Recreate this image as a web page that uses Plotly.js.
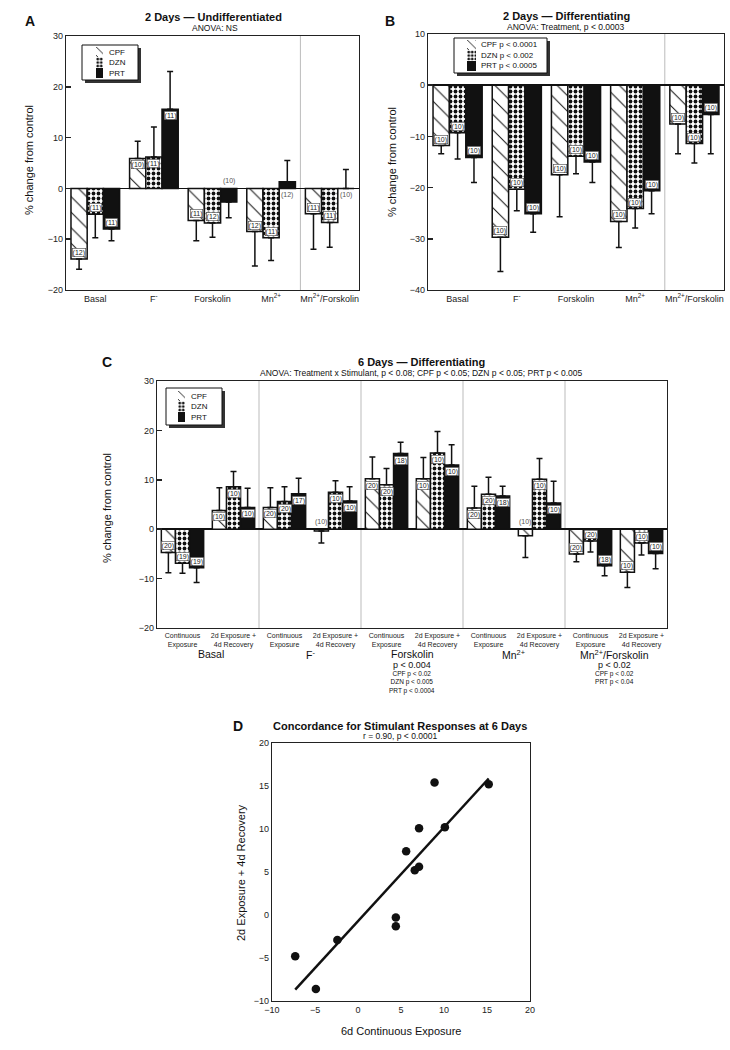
<!DOCTYPE html>
<html>
<head>
<meta charset="utf-8">
<script src="https://cdn.plot.ly/plotly-3.0.1.min.js"></script>
<style>
  body { margin: 0; background: #fff; }
  #fig { width: 730px; height: 1050px; }
</style>
</head>
<body>
<div id="fig"></div>
<script>
/*
  Four-panel figure: stimulant responses after 2 and 6 days (A-C) and concordance scatter (D).
*/

// ---- data ----
const stimuli = ['Basal', 'F<sup>-</sup>', 'Forskolin', 'Mn<sup>2+</sup>', 'Mn<sup>2+</sup>/Forskolin'];
const exposures = ['Continuous<br>Exposure', '2d Exposure +<br>4d Recovery'];

// Panel A: 2 days, undifferentiated
const aCPF = [-13.9, 5.9, -6.3, -8.5, -5.0];
const aCPFErr = [2.0, 3.4, 4.0, 6.8, 7.0];
const aCPFN = [12, 10, 11, 12, 11];
const aDZN = [-5.1, 6.2, -6.8, -9.7, -6.7];
const aDZNErr = [4.6, 5.9, 2.8, 4.5, 4.9];
const aDZNN = [11, 11, 12, 11, 11];
const aPRT = [-8.0, 15.6, -2.7, 1.3, 0.0];
const aPRTErr = [2.3, 7.4, 3.1, 4.2, 3.7];
const aPRTN = [11, 11, 10, 12, 10];

// Panel B: 2 days, differentiating
const bCPF = [-11.8, -29.7, -17.5, -26.6, -7.6];
const bCPFErr = [1.6, 6.7, 8.2, 5.1, 5.8];
const bCPFN = [10, 10, 10, 10, 10];
const bDZN = [-9.3, -20.3, -13.9, -24.1, -11.4];
const bDZNErr = [5.1, 4.2, 3.4, 3.8, 3.8];
const bDZNN = [10, 10, 10, 10, 10];
const bPRT = [-14.1, -25.1, -15.0, -20.6, -5.7];
const bPRTErr = [4.9, 3.6, 4.0, 4.5, 7.7];
const bPRTN = [10, 10, 10, 10, 10];

// Panel C: 6 days, differentiating (each stimulant: continuous, 2d exposure + 4d recovery)
const cCPF = [-4.7, 3.8, 4.4, -0.35, 10.2, 10.2, 4.3, -1.35, -5.0, -8.7];
const cCPFErr = [4.1, 4.6, 4.0, 2.45, 4.4, 4.3, 4.4, 4.4, 1.6, 3.1];
const cCPFN = [20, 10, 20, 10, 20, 10, 20, 10, 20, 10];
const cDZN = [-6.9, 8.6, 5.6, 7.5, 9.0, 15.4, 7.1, 10.1, -2.4, -2.8];
const cDZNErr = [2.0, 3.1, 3.0, 2.3, 3.3, 4.4, 3.4, 4.2, 2.2, 2.4];
const cDZNN = [19, 10, 20, 10, 20, 10, 20, 10, 20, 10];
const cPRT = [-7.8, 4.4, 7.2, 5.7, 15.3, 13.0, 6.7, 5.3, -7.4, -4.9];
const cPRTErr = [3.0, 3.9, 3.1, 2.9, 2.3, 4.1, 2.0, 4.4, 2.0, 3.1];
const cPRTN = [19, 10, 17, 10, 18, 10, 18, 10, 18, 10];

// Panel D: concordance at 6 days
const dContinuous = [-7.3, -4.9, -2.4, 4.4, 4.4, 5.6, 6.6, 7.1, 7.1, 8.9, 10.1, 15.2];
const dRecovery = [-4.8, -8.6, -2.9, -0.3, -1.3, 7.4, 5.2, 5.6, 10.1, 15.4, 10.2, 15.2];

// ---- helpers ----
const W = 730, H = 1050;
const FONT = '"Liberation Sans", Arial, sans-serif';
const px = x => x / W;
const py = y => 1 - y / H;
const BARGAP = 0.17;
const BARW = (1 - BARGAP) / 3;

const STYLE = {
  CPF: { color: 'white', line: { color: '#111', width: 1.5 },
         pattern: { shape: '\\', fgcolor: '#111', bgcolor: 'white', size: 11, solidity: 0.09 } },
  DZN: { color: 'white', line: { color: '#111', width: 1.5 },
         pattern: { shape: '.', fgcolor: '#111', bgcolor: 'white', size: 5, solidity: 0.45 } },
  PRT: { color: '#111', line: { color: '#111', width: 1.5 } },
};
const SWATCH = {
  CPF: { color: 'white', line: { width: 0 },
         pattern: { shape: '\\', fgcolor: '#111', bgcolor: 'white', size: 6, solidity: 0.15 } },
  DZN: { color: 'white', line: { width: 0 },
         pattern: { shape: '.', fgcolor: '#111', bgcolor: 'white', size: 3.5, solidity: 0.5 } },
  PRT: { color: '#111', line: { width: 0 } },
};

function barTrace(name, y, err, ax) {
  return {
    type: 'bar', name,
    x: y.map((v, i) => i), y,
    xaxis: 'x' + ax, yaxis: 'y' + ax,
    marker: STYLE[name],
    error_y: {
      type: 'data', symmetric: false,
      array: y.map((v, i) => v >= 0 ? err[i] : 0),
      arrayminus: y.map((v, i) => v < 0 ? err[i] : 0),
      color: '#111', thickness: 1.5, width: 3,
    },
    hoverinfo: 'skip',
  };
}

// "(n)" labels sitting inside the end of each bar, or next to the zero line for short bars
function nLabels(values, ns, slot, ax, outsideLimit) {
  return values.map((v, i) => {
    const outside = Math.abs(v) < outsideLimit;
    const a = {
      xref: 'x' + ax, yref: 'y' + ax, x: i + (slot - 1) * BARW,
      text: '(' + ns[i] + ')', showarrow: false,
      font: { size: 7, color: '#222' }, xanchor: 'center',
    };
    if (outside) {
      a.y = 0;
      a.yanchor = v < 0 ? 'bottom' : 'top';
      a.yshift = v < 0 ? 1 : -1;
      a.font.color = '#555';
    } else {
      a.y = v;
      a.yanchor = v >= 0 ? 'top' : 'bottom';
      a.yshift = v >= 0 ? -2 : 2;
      a.bgcolor = 'white';
      a.bordercolor = '#444';
      a.borderwidth = 0.6;
      a.borderpad = 0;
    }
    return a;
  });
}

function note(x, y, s, size, extra) {
  return Object.assign({
    xref: 'paper', yref: 'paper', x: px(x), y: py(y), text: s, showarrow: false,
    font: { size, color: '#111' }, xanchor: 'center', yanchor: 'middle',
  }, extra || {});
}

// small hand-made legend: one swatch bar per series on a hidden axis, texts, framed box with shadow
const ROW = 10.5;
function legendParts(ax, box, swX, labels, textX, firstRow) {
  const rows = labels.map((s, i) => firstRow + i * ROW);
  const traces = ['CPF', 'DZN', 'PRT'].map((name, i) => ({
    type: 'bar', orientation: 'h', x: [1], y: [i], width: [0.96],
    xaxis: 'x' + ax, yaxis: 'y' + ax, hoverinfo: 'skip', marker: SWATCH[name],
  }));
  const axes = {};
  axes['xaxis' + ax] = { domain: [px(swX[0]), px(swX[1])], range: [0, 1], visible: false, anchor: 'y' + ax, fixedrange: true };
  axes['yaxis' + ax] = { domain: [py(rows[2] + ROW / 2), py(rows[0] - ROW / 2)], range: [2.5, -0.5],
                         visible: false, anchor: 'x' + ax, fixedrange: true };
  const shapes = [
    { type: 'rect', xref: 'paper', yref: 'paper', layer: 'below',
      x0: px(box[0] + 3), x1: px(box[1] + 3), y0: py(box[3] + 3), y1: py(box[2] + 3),
      fillcolor: '#333', line: { width: 0 } },
    { type: 'rect', xref: 'paper', yref: 'paper', layer: 'below',
      x0: px(box[0]), x1: px(box[1]), y0: py(box[3]), y1: py(box[2]),
      fillcolor: 'white', line: { color: '#111', width: 1 } },
  ];
  const texts = labels.map((s, i) => note(textX, rows[i], s, 8, { xanchor: 'left' }));
  return { traces, axes, shapes, texts };
}

// ---- axes ----
const frame = {
  showline: true, mirror: true, linecolor: '#222', linewidth: 1.2,
  showgrid: false, zeroline: false, fixedrange: true,
  tickfont: { size: 9, color: '#222' },
};
function barX(domain, anchor, n, text, size) {
  return Object.assign({}, frame, {
    domain, anchor, range: [-0.5, n - 0.5], tickvals: text.map((t, i) => i), ticktext: text,
    ticks: '', tickfont: { size, color: '#222' },
  });
}
function barY(domain, anchor, range) {
  return Object.assign({}, frame, {
    domain, anchor, range, dtick: 10, ticks: 'inside', ticklen: 5, tickwidth: 1.5, tickcolor: '#222',
    zeroline: true, zerolinecolor: '#111', zerolinewidth: 1.5,
  });
}

const cTicks = [];
stimuli.forEach(() => exposures.forEach(e => cTicks.push(e)));

// regression line for panel D (least squares)
const mx = dContinuous.reduce((s, v) => s + v, 0) / dContinuous.length;
const my = dRecovery.reduce((s, v) => s + v, 0) / dRecovery.length;
let sxy = 0, sxx = 0;
dContinuous.forEach((v, i) => { sxy += (v - mx) * (dRecovery[i] - my); sxx += (v - mx) * (v - mx); });
const slope = sxy / sxx;
const icpt = my - slope * mx;
const lineX = [Math.min(...dContinuous), Math.max(...dContinuous)];
const lineY = lineX.map(x => icpt + slope * x);

const traces = [
  barTrace('CPF', aCPF, aCPFErr, ''), barTrace('DZN', aDZN, aDZNErr, ''), barTrace('PRT', aPRT, aPRTErr, ''),
  barTrace('CPF', bCPF, bCPFErr, '2'), barTrace('DZN', bDZN, bDZNErr, '2'), barTrace('PRT', bPRT, bPRTErr, '2'),
  barTrace('CPF', cCPF, cCPFErr, '3'), barTrace('DZN', cDZN, cDZNErr, '3'), barTrace('PRT', cPRT, cPRTErr, '3'),
  {
    type: 'scatter', mode: 'lines', x: lineX, y: lineY, xaxis: 'x4', yaxis: 'y4',
    line: { color: '#111', width: 2.5 }, hoverinfo: 'skip',
  },
  {
    type: 'scatter', mode: 'markers', x: dContinuous, y: dRecovery, xaxis: 'x4', yaxis: 'y4',
    marker: { color: '#111', size: 8.5 }, hoverinfo: 'skip',
  },
];

const legA = legendParts('5', [82, 138, 45, 80], [96, 103], ['CPF', 'DZN', 'PRT'], 107, 52);
const legB = legendParts('6', [454, 547, 38, 73], [467, 476], ['CPF p < 0.0001', 'DZN p < 0.002', 'PRT p < 0.0005'], 479, 45);
const legC = legendParts('7', [166, 222, 388, 425], [178, 185], ['CPF', 'DZN', 'PRT'], 189, 396);
[legA, legB, legC].forEach(l => l.traces.forEach(t => traces.push(t)));

const separators = [
  ['x', 3.5], ['x2', 3.5], ['x3', 1.5], ['x3', 3.5], ['x3', 5.5], ['x3', 7.5],
].map(([xr, v]) => {
  const yr = xr.replace('x', 'y');
  return { type: 'line', xref: xr, yref: yr + ' domain', x0: v, x1: v, y0: 0, y1: 1,
           layer: 'below', line: { color: '#bbb', width: 1 } };
});

const annotations = [
  // panel letters and titles
  note(30, 21, '<b>A</b>', 14), note(390, 21, '<b>B</b>', 14), note(107, 362, '<b>C</b>', 14), note(238, 726, '<b>D</b>', 14),
  note(213, 17, '<b>2 Days — Undifferentiated</b>', 11), note(215, 27.5, 'ANOVA: NS', 8.5),
  note(566, 16, '<b>2 Days — Differentiating</b>', 11), note(566, 27, 'ANOVA: Treatment, p < 0.0003', 8.5),
  note(421, 362, '<b>6 Days — Differentiating</b>', 11),
  note(421, 373, 'ANOVA: Treatment x Stimulant, p < 0.08; CPF p < 0.05; DZN p < 0.05; PRT p < 0.005', 8.5),
  note(400, 726, '<b>Concordance for Stimulant Responses at 6 Days</b>', 11),
  note(400, 736, 'r = 0.90, p < 0.0001', 8.5),
  // axis titles
  note(29, 160, '% change from control', 11, { textangle: -90 }),
  note(392, 162, '% change from control', 11, { textangle: -90 }),
  note(107, 508, '% change from control', 11, { textangle: -90 }),
  note(241, 872, '2d Exposure + 4d Recovery', 11, { textangle: -90 }),
  note(401, 1031, '6d Continuous Exposure', 11),
  // panel C stimulant group labels and statistics
  note(211, 654, 'Basal', 10.5), note(310, 654, 'F<sup>-</sup>', 10.5), note(412, 654, 'Forskolin', 10.5),
  note(513, 654, 'Mn<sup>2+</sup>', 10.5), note(614, 654, 'Mn<sup>2+</sup>/Forskolin', 10.5),
  note(412, 665, 'p < 0.004', 9),
  note(412, 671, 'CPF p < 0.02<br>DZN p < 0.005<br>PRT p < 0.0004', 6.5, { yanchor: 'top', yshift: 3 }),
  note(614, 665, 'p < 0.02', 9),
  note(614, 671, 'CPF p < 0.02<br>PRT p < 0.04', 6.5, { yanchor: 'top', yshift: 3 }),
].concat(
  nLabels(aCPF, aCPFN, 0, '', 3), nLabels(aDZN, aDZNN, 1, '', 3), nLabels(aPRT, aPRTN, 2, '', 3),
  nLabels(bCPF, bCPFN, 0, '2', 3), nLabels(bDZN, bDZNN, 1, '2', 3), nLabels(bPRT, bPRTN, 2, '2', 3),
  nLabels(cCPF, cCPFN, 0, '3', 2), nLabels(cDZN, cDZNN, 1, '3', 2), nLabels(cPRT, cPRTN, 2, '3', 2),
  legA.texts, legB.texts, legC.texts
);

const layout = Object.assign({
  width: W, height: H,
  margin: { l: 0, r: 0, t: 0, b: 0 },
  paper_bgcolor: 'white', plot_bgcolor: 'rgba(0,0,0,0)',
  font: { family: FONT, size: 9, color: '#222' },
  showlegend: false,
  barmode: 'group', bargap: BARGAP, bargroupgap: 0,
  xaxis: barX([px(66), px(359)], 'y', 5, stimuli, 9),
  yaxis: barY([py(290), py(36)], 'x', [-20, 30]),
  xaxis2: barX([px(428), px(724)], 'y2', 5, stimuli, 9),
  yaxis2: barY([py(290), py(34)], 'x2', [-40, 10]),
  xaxis3: barX([px(157), px(667)], 'y3', 10, cTicks, 7),
  yaxis3: barY([py(628), py(381)], 'x3', [-20, 30]),
  xaxis4: Object.assign({}, frame, { domain: [px(272), px(530)], anchor: 'y4', range: [-10, 20], dtick: 5, ticks: '' }),
  yaxis4: Object.assign({}, frame, { domain: [py(1001), py(743)], anchor: 'x4', range: [-10, 20], dtick: 5, ticks: '' }),
  shapes: separators.concat(legA.shapes, legB.shapes, legC.shapes),
  annotations,
}, legA.axes, legB.axes, legC.axes);

Plotly.newPlot('fig', traces, layout, { displayModeBar: false, staticPlot: true });
</script>
</body>
</html>
